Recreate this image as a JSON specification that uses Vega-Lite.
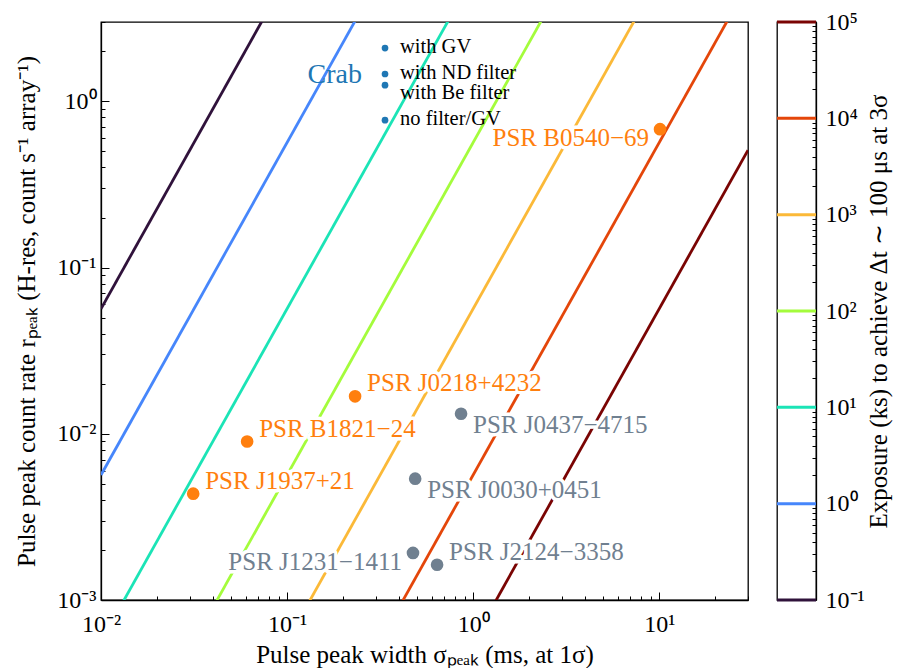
{
  "$schema": "https://vega.github.io/schema/vega-lite/v6.json",
  "background": "white",
  "padding": {"left": 14, "top": 9, "right": 5, "bottom": 5},
  "config": {
    "font": "Liberation Serif",
    "text": {"font": "Liberation Serif"},
    "view": {"stroke": "black", "strokeWidth": 1.3},
    "axis": {
      "labelFont": "Liberation Serif",
      "titleFont": "Liberation Serif",
      "labelFontSize": 24,
      "titleFontSize": 25,
      "titleFontWeight": "normal",
      "labelColor": "black",
      "titleColor": "black",
      "tickColor": "black",
      "domainColor": "black",
      "domainWidth": 1.3,
      "tickWidth": 1,
      "grid": false,
      "labelOverlap": false,
      "labelBound": false,
      "labelFlush": false
    }
  },
  "datasets": {
    "lines": [
      {"T": 0.1, "sigma": 0.01, "r": 0.0565},
      {"T": 0.1, "sigma": 30, "r": 508500},
      {"T": 1, "sigma": 0.01, "r": 0.00565},
      {"T": 1, "sigma": 30, "r": 50850},
      {"T": 10, "sigma": 0.01, "r": 0.000565},
      {"T": 10, "sigma": 30, "r": 5085},
      {"T": 100, "sigma": 0.01, "r": 0.0000565},
      {"T": 100, "sigma": 30, "r": 508.5},
      {"T": 1000, "sigma": 0.01, "r": 0.00000565},
      {"T": 1000, "sigma": 30, "r": 50.85},
      {"T": 10000, "sigma": 0.01, "r": 0.000000565},
      {"T": 10000, "sigma": 30, "r": 5.085},
      {"T": 100000, "sigma": 0.01, "r": 0.0000000565},
      {"T": 100000, "sigma": 30, "r": 0.5085}
    ],
    "levels": [
      {"T": 0.1}, {"T": 1}, {"T": 10}, {"T": 100}, {"T": 1000}, {"T": 10000}, {"T": 100000}
    ],
    "pulsars": [
      {"name": "PSR J1937+21", "kind": "nonthermal", "sigma": 0.0313, "r": 0.00436},
      {"name": "PSR B1821−24", "kind": "nonthermal", "sigma": 0.061, "r": 0.00898},
      {"name": "PSR J0218+4232", "kind": "nonthermal", "sigma": 0.232, "r": 0.0168},
      {"name": "PSR B0540−69", "kind": "nonthermal", "sigma": 10.1, "r": 0.68},
      {"name": "PSR J0437−4715", "kind": "thermal", "sigma": 0.861, "r": 0.0132},
      {"name": "PSR J0030+0451", "kind": "thermal", "sigma": 0.488, "r": 0.00537},
      {"name": "PSR J1231−1411", "kind": "thermal", "sigma": 0.475, "r": 0.00192},
      {"name": "PSR J2124−3358", "kind": "thermal", "sigma": 0.64, "r": 0.00163}
    ],
    "crab": [
      {"mode": "with GV", "sigma": 0.336, "r": 2.09},
      {"mode": "with ND filter", "sigma": 0.336, "r": 1.46},
      {"mode": "with Be filter", "sigma": 0.336, "r": 1.25},
      {"mode": "no filter/GV", "sigma": 0.336, "r": 0.77}
    ]
  },
  "spacing": 24,
  "resolve": {"scale": {"color": "shared"}},
  "hconcat": [
    {
      "width": 647,
      "height": 578,
      "encoding": {
        "x": {
          "field": "sigma", "type": "quantitative",
          "scale": {"type": "log", "domain": [0.01, 30], "nice": false},
          "axis": {
            "title": "Pulse peak width σₚₑₐₖ (ms, at 1σ)",
            "values": [0.01,0.02,0.03,0.04,0.05,0.06,0.07,0.08,0.09,0.1,0.2,0.3,0.4,0.5,0.6,0.7,0.8,0.9,1,2,3,4,5,6,7,8,9,10,20,30],
            "labelExpr": "abs(log(datum.value)/LN10 - round(log(datum.value)/LN10)) < 0.001 ? '10' + replace(replace(replace(replace(replace(replace(replace('' + round(log(datum.value)/LN10), '-', '⁻'), '0', '⁰'), '1', '¹'), '2', '²'), '3', '³'), '4', '⁴'), '5', '⁵') : ''",
            "tickSize": {"condition": {"test": "abs(log(datum.value)/LN10 - round(log(datum.value)/LN10)) < 0.001", "value": -8}, "value": -4},
            "labelPadding": 20,
            "titlePadding": 2
          }
        },
        "y": {
          "field": "r", "type": "quantitative",
          "scale": {"type": "log", "domain": [0.001, 3], "nice": false},
          "axis": {
            "title": "Pulse peak count rate rₚₑₐₖ (H-res, count s⁻¹ array⁻¹)",
            "values": [0.001,0.002,0.003,0.004,0.005,0.006,0.007,0.008,0.009,0.01,0.02,0.03,0.04,0.05,0.06,0.07,0.08,0.09,0.1,0.2,0.3,0.4,0.5,0.6,0.7,0.8,0.9,1,2,3],
            "labelExpr": "abs(log(datum.value)/LN10 - round(log(datum.value)/LN10)) < 0.001 ? '10' + replace(replace(replace(replace(replace(replace(replace('' + round(log(datum.value)/LN10), '-', '⁻'), '0', '⁰'), '1', '¹'), '2', '²'), '3', '³'), '4', '⁴'), '5', '⁵') : ''",
            "tickSize": {"condition": {"test": "abs(log(datum.value)/LN10 - round(log(datum.value)/LN10)) < 0.001", "value": -8}, "value": -4},
            "labelPadding": 13,
            "titlePadding": 17
          }
        }
      },
      "layer": [
        {
          "data": {"name": "lines"},
          "mark": {"type": "line", "clip": true, "strokeWidth": 2.8},
          "encoding": {
            "color": {
              "field": "T", "type": "ordinal",
              "scale": {"domain": [0.1, 1, 10, 100, 1000, 10000, 100000], "range": ["#30123b", "#4686fb", "#1be4b6", "#a4fc3c", "#fbb938", "#e4460a", "#7a0403"]},
              "legend": null
            }
          }
        },
        {
          "data": {"name": "pulsars"},
          "transform": [{"filter": "indexof(['PSR J1937+21','PSR B1821−24','PSR J0218+4232','PSR J2124−3358'], datum.name) >= 0"}],
          "mark": {"type": "text", "font": "Liberation Serif", "align": "left", "baseline": "middle", "dx": 12, "dy": -13, "fontSize": 25, "stroke": "white", "strokeWidth": 7, "strokeJoin": "round", "fill": "white"},
          "encoding": {"text": {"field": "name"}}
        },
        {
          "data": {"name": "pulsars"},
          "transform": [{"filter": "indexof(['PSR J0437−4715','PSR J0030+0451'], datum.name) >= 0"}],
          "mark": {"type": "text", "font": "Liberation Serif", "align": "left", "baseline": "middle", "dx": 12, "dy": 11, "fontSize": 25, "stroke": "white", "strokeWidth": 7, "strokeJoin": "round", "fill": "white"},
          "encoding": {"text": {"field": "name"}}
        },
        {
          "data": {"name": "pulsars"},
          "transform": [{"filter": "indexof(['PSR J1231−1411','PSR B0540−69'], datum.name) >= 0"}],
          "mark": {"type": "text", "font": "Liberation Serif", "align": "right", "baseline": "middle", "dx": -11, "dy": 9, "fontSize": 25, "stroke": "white", "strokeWidth": 7, "strokeJoin": "round", "fill": "white"},
          "encoding": {"text": {"field": "name"}}
        },
        {
          "data": {"name": "pulsars"},
          "mark": {"type": "circle", "size": 160, "opacity": 1},
          "encoding": {
            "fill": {"field": "kind", "type": "nominal", "scale": {"domain": ["nonthermal", "thermal"], "range": ["#ff7f0e", "#708090"]}, "legend": null}
          }
        },
        {
          "data": {"name": "pulsars"},
          "transform": [{"filter": "indexof(['PSR J1937+21','PSR B1821−24','PSR J0218+4232','PSR J2124−3358'], datum.name) >= 0"}],
          "mark": {"type": "text", "font": "Liberation Serif", "align": "left", "baseline": "middle", "dx": 12, "dy": -13, "fontSize": 25},
          "encoding": {"text": {"field": "name"}, "fill": {"field": "kind", "type": "nominal", "legend": null}}
        },
        {
          "data": {"name": "pulsars"},
          "transform": [{"filter": "indexof(['PSR J0437−4715','PSR J0030+0451'], datum.name) >= 0"}],
          "mark": {"type": "text", "font": "Liberation Serif", "align": "left", "baseline": "middle", "dx": 12, "dy": 11, "fontSize": 25},
          "encoding": {"text": {"field": "name"}, "fill": {"field": "kind", "type": "nominal", "legend": null}}
        },
        {
          "data": {"name": "pulsars"},
          "transform": [{"filter": "indexof(['PSR J1231−1411','PSR B0540−69'], datum.name) >= 0"}],
          "mark": {"type": "text", "font": "Liberation Serif", "align": "right", "baseline": "middle", "dx": -11, "dy": 9, "fontSize": 25},
          "encoding": {"text": {"field": "name"}, "fill": {"field": "kind", "type": "nominal", "legend": null}}
        },
        {
          "data": {"name": "crab"},
          "mark": {"type": "circle", "size": 45, "color": "#1f77b4", "opacity": 1}
        },
        {
          "data": {"name": "crab"},
          "transform": [{"filter": "datum.mode != 'with Be filter'"}],
          "mark": {"type": "text", "font": "Liberation Serif", "align": "left", "baseline": "middle", "dx": 15, "dy": -1, "fontSize": 20.5, "color": "black"},
          "encoding": {"text": {"field": "mode"}}
        },
        {
          "data": {"name": "crab"},
          "transform": [{"filter": "datum.mode == 'with Be filter'"}],
          "mark": {"type": "text", "font": "Liberation Serif", "align": "left", "baseline": "middle", "dx": 15, "dy": 8, "fontSize": 20.5, "color": "black"},
          "encoding": {"text": {"field": "mode"}}
        },
        {
          "data": {"name": "crab"},
          "transform": [{"filter": "datum.mode == 'with ND filter'"}],
          "mark": {"type": "text", "font": "Liberation Serif", "align": "right", "baseline": "middle", "dx": -23, "dy": 1, "fontSize": 28, "color": "#1f77b4", "text": "Crab"}
        }
      ]
    },
    {
      "width": 39,
      "height": 578,
      "data": {"name": "levels"},
      "mark": {"type": "rule", "strokeWidth": 3},
      "encoding": {
        "y": {
          "field": "T", "type": "quantitative",
          "scale": {"type": "log", "domain": [0.1, 100000], "nice": false},
          "axis": {
            "orient": "right",
            "title": "Exposure (ks) to achieve Δt ∼ 100 μs at 3σ",
            "titleAngle": 270,
            "titleBaseline": "top",
            "values": [0.1,0.2,0.3,0.4,0.5,0.6,0.7,0.8,0.9,1,2,3,4,5,6,7,8,9,10,20,30,40,50,60,70,80,90,100,200,300,400,500,600,700,800,900,1000,2000,3000,4000,5000,6000,7000,8000,9000,10000,20000,30000,40000,50000,60000,70000,80000,90000,100000],
            "labelExpr": "abs(log(datum.value)/LN10 - round(log(datum.value)/LN10)) < 0.001 ? '10' + replace(replace(replace(replace(replace(replace(replace('' + round(log(datum.value)/LN10), '-', '⁻'), '0', '⁰'), '1', '¹'), '2', '²'), '3', '³'), '4', '⁴'), '5', '⁵') : ''",
            "tickSize": {"condition": {"test": "abs(log(datum.value)/LN10 - round(log(datum.value)/LN10)) < 0.001", "value": -8}, "value": -4},
            "labelPadding": 17,
            "titlePadding": 2
          }
        },
        "color": {
          "field": "T", "type": "ordinal",
          "scale": {"domain": [0.1, 1, 10, 100, 1000, 10000, 100000], "range": ["#30123b", "#4686fb", "#1be4b6", "#a4fc3c", "#fbb938", "#e4460a", "#7a0403"]},
          "legend": null
        }
      }
    }
  ]
}
